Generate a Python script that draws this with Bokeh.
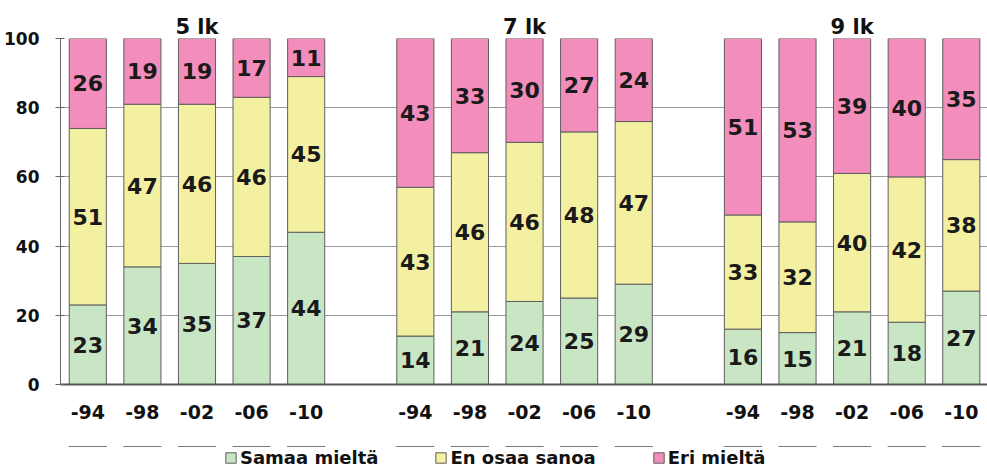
from bokeh.plotting import figure
from bokeh.layouts import column
from bokeh.models import (ColumnDataSource, FixedTicker, Legend, LegendItem, Range1d,
                          LinearAxis)
from bokeh.core.properties import value
from bokeh.embed import file_html
from bokeh.resources import INLINE

groups = ["5 lk", "7 lk", "9 lk"]
years = ["-94", "-98", "-02", "-06", "-10"]
samaa = [23, 34, 35, 37, 44, 14, 21, 24, 25, 29, 16, 15, 21, 18, 27]
en_osaa = [51, 47, 46, 46, 45, 43, 46, 46, 48, 47, 33, 32, 40, 42, 38]
eri = [26, 19, 19, 17, 11, 43, 33, 30, 27, 24, 51, 53, 39, 40, 35]
series = ["Samaa mieltä", "En osaa sanoa", "Eri mieltä"]
colors = ["#c8e6c4", "#f4f0a2", "#f28dbc"]
y_ticks = [0, 20, 40, 60, 80, 100]

FONT = "DejaVu Sans"
EDGE = "#5e5e5e"

xs = [g * 6 + i for g in range(len(groups)) for i in range(len(years))]
src = ColumnDataSource(dict(x=xs, samaa=samaa, en=en_osaa, eri=eri))

p = figure(frame_width=927, frame_height=346, x_range=Range1d(-0.5, 16.48),
           y_range=Range1d(0, 100), output_backend="svg", toolbar_location=None,
           min_border_left=60, min_border_right=0, min_border_top=38, min_border_bottom=62)
p.outline_line_color = None
p.background_fill_color = "white"

rs = p.vbar_stack(["samaa", "en", "eri"], x="x", width=0.68, color=colors, source=src,
                  line_color=EDGE, line_width=1)

# value labels at segment centres
lx, ly, lt = [], [], []
for i, x in enumerate(xs):
    b = 0
    for v in (samaa[i], en_osaa[i], eri[i]):
        lx.append(x)
        ly.append(b + v / 2)
        lt.append(str(v))
        b += v
p.text(x="x", y="y", text="t", source=ColumnDataSource(dict(x=lx, y=ly, t=lt)),
       text_font=value(FONT), text_font_style="bold", text_font_size="22px",
       text_align="center", text_baseline="middle", text_color="#1a1a1a")

# grid
p.xgrid.grid_line_color = None
p.ygrid.ticker = FixedTicker(ticks=y_ticks)
p.ygrid.grid_line_color = "#9c9c9c"
p.ygrid.grid_line_width = 1

# y axis
p.yaxis.ticker = FixedTicker(ticks=y_ticks)
p.yaxis.major_label_text_font = FONT
p.yaxis.major_label_text_font_style = "bold"
p.yaxis.major_label_text_font_size = "17px"
p.yaxis.major_label_text_color = "#111111"
p.yaxis.major_tick_out = 5
p.yaxis.major_tick_in = 4
p.yaxis.minor_tick_line_color = None
p.yaxis.axis_line_color = "#666666"
p.yaxis.major_tick_line_color = "#666666"
p.yaxis.major_label_standoff = 16

# x axis
p.xaxis.ticker = FixedTicker(ticks=xs)
p.xaxis.major_label_overrides = {x: years[i % len(years)] for i, x in enumerate(xs)}
p.xaxis.major_tick_line_color = None
p.xaxis.minor_tick_line_color = None
p.xaxis.major_tick_out = 0
p.xaxis.axis_line_color = "#555555"
p.xaxis.axis_line_width = 2
p.xaxis.major_label_text_font = FONT
p.xaxis.major_label_text_font_style = "bold"
p.xaxis.major_label_text_font_size = "19px"
p.xaxis.major_label_text_color = "#111111"
p.xaxis.major_label_standoff = 20

# group titles as an axis above the frame
centres = [g * 6 + (len(years) - 1) / 2 for g in range(len(groups))]
top_axis = LinearAxis(ticker=FixedTicker(ticks=centres),
                      major_label_overrides={c: groups[g] for g, c in enumerate(centres)})
top_axis.axis_line_color = None
top_axis.major_tick_line_color = None
top_axis.minor_tick_line_color = None
top_axis.major_tick_out = 0
top_axis.major_label_text_font = FONT
top_axis.major_label_text_font_style = "bold"
top_axis.major_label_text_font_size = "21px"
top_axis.major_label_text_color = "#111111"
top_axis.major_label_standoff = 0
p.add_layout(top_axis, "above")

# legend strip below the chart (same stacked bars, kept far outside its visible range)
lg = figure(width=987, height=24, x_range=p.x_range, y_range=Range1d(-1000, -999),
            output_backend="svg", toolbar_location=None,
            min_border_left=0, min_border_right=0, min_border_top=0, min_border_bottom=0)
lg.axis.visible = False
lg.grid.grid_line_color = None
lg.outline_line_color = None
swatches = lg.vbar_stack(["samaa", "en", "eri"], x="x", width=0.68, color=colors,
                         source=src, line_color=EDGE, line_width=1)
legend = Legend(items=[LegendItem(label=series[k], renderers=[swatches[k]], index=0)
                       for k in range(len(series))],
                orientation="horizontal", location=(164, 2))
legend.background_fill_alpha = 0
legend.border_line_color = None
legend.label_text_font = FONT
legend.label_text_font_style = "bold"
legend.label_text_font_size = "18px"
legend.label_text_color = "#111111"
legend.glyph_width = 13
legend.glyph_height = 13
legend.label_height = 20
legend.spacing = 56
legend.label_standoff = 3
legend.padding = 0
legend.margin = 0
lg.add_layout(legend)

layout = column(p, lg, spacing=0)
open("out.html", "w").write(file_html(layout, INLINE))
